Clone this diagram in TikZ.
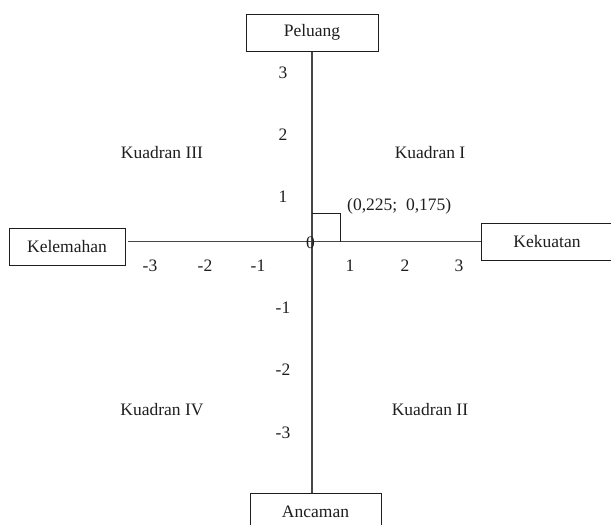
\documentclass[tikz,border=0pt]{standalone}
\usepackage{fontspec}
\setmainfont{Liberation Serif}
\usetikzlibrary{positioning,calc}
\definecolor{ink}{RGB}{30,30,30}
\definecolor{axis}{RGB}{70,70,70}
\tikzset{
  kotak/.style={draw=ink,line width=1pt,fill=white,minimum height=37pt,
    minimum width=#1,inner sep=0pt,font=\fontsize{17.5}{20}\selectfont,text=ink},
  kotak/.default=132pt,
  sumbu/.style={draw=axis,line width=1.2pt},
  angka/.style={font=\fontsize{17.5}{20}\selectfont,inner sep=0pt,text=ink},
  kuadran/.style={font=\fontsize{17.5}{20}\selectfont,inner sep=0pt,text=ink},
}
\begin{document}
\begin{tikzpicture}[x=1pt,y=-1pt]
  \useasboundingbox (0,0) rectangle (611,525);
  \clip (0,0) rectangle (611,525);
  % kotak faktor
  \node[kotak] (peluang) at (312,32.5) {Peluang};
  \node[kotak=131pt] (ancaman) at (315.5,511.5) {Ancaman};
  \node[kotak=116pt] (kelemahan) at (67,246.5) {Kelemahan};
  \node[kotak=132pt] (kekuatan) at (547,241.5) {Kekuatan};
  % sumbu
  \coordinate (kiri) at (128,241.5);
  \draw[sumbu] (peluang.south) -- (peluang.south |- ancaman.north);
  \draw[sumbu] (kiri) -- (kekuatan.west);
  % titik posisi
  \coordinate (pusat) at (312,241.5);
  \coordinate (titik) at (340,213);
  \draw[draw=ink,line width=1pt] (pusat |- titik) -- (titik) -- (titik |- pusat);
  \node[angka,anchor=west] (koord) at (347,206) {(0,225;\ \ 0,175)};
  \node[angka] (nol) at (310.5,242.5) {0};
  % angka skala
  \foreach \x/\t in {150/-3,205/-2,258/-1,350/1,405/2,459/3}
    \node[angka] (h\t) at (\x,266) {\t};
  \foreach \y/\t in {73/3,135/2,197/1,308/-1,370/-2,433/-3}
    \node[angka] (v\t) at (283,\y) {\t};
  % kuadran
  \node[kuadran] (k3) at (162,153) {Kuadran III};
  \node[kuadran] (k1) at (430,153) {Kuadran I};
  \node[kuadran] (k4) at (162,410) {Kuadran IV};
  \node[kuadran] (k2) at (430,410) {Kuadran II};
\end{tikzpicture}
\end{document}
